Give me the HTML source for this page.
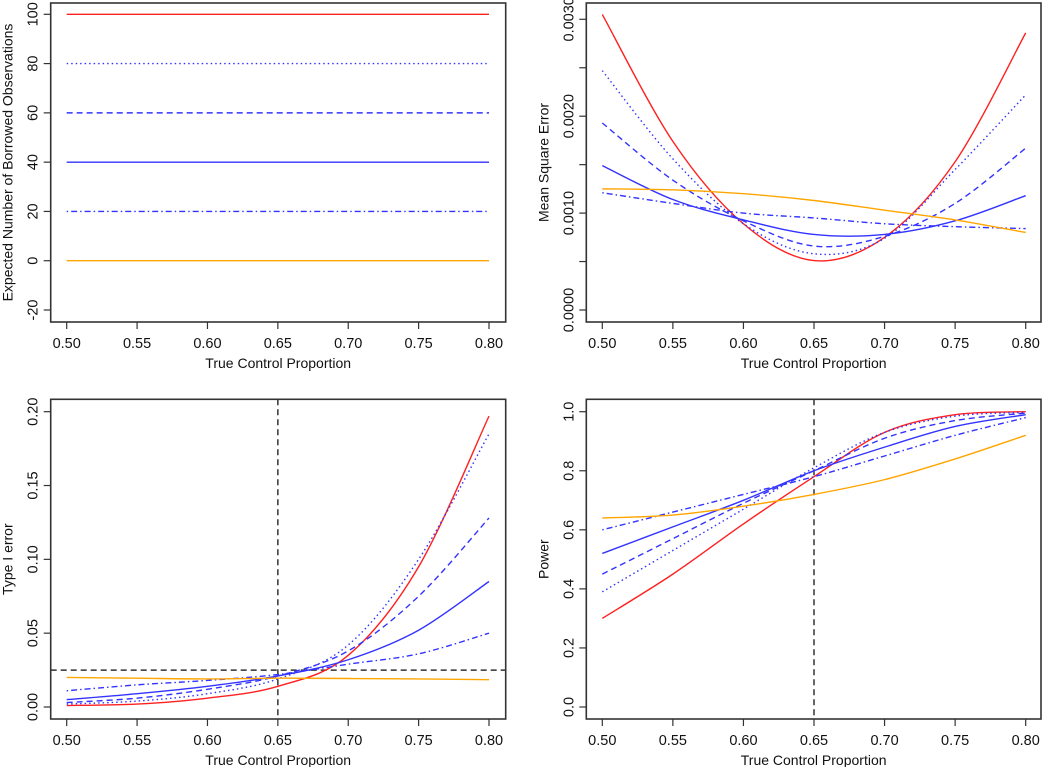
<!DOCTYPE html>
<html><head><meta charset="utf-8"><style>
html,body{margin:0;padding:0;background:#fff;}
svg{display:block;font-family:"Liberation Sans",Arial,sans-serif;}
</style></head><body>
<svg id="fig" width="1050" height="767" viewBox="0 0 1050 767"></svg>
<script>
const xVals = [0.50,0.55,0.60,0.65,0.70,0.75,0.80];
const xTicks = [0.50,0.55,0.60,0.65,0.70,0.75,0.80];
const xTickLabels = ["0.50","0.55","0.60","0.65","0.70","0.75","0.80"];
// Panel 1: expected borrowed
const p1Red = [100,100,100,100,100,100,100];
const p1Dot = [80,80,80,80,80,80,80];
const p1Dash = [60,60,60,60,60,60,60];
const p1Solid = [40,40,40,40,40,40,40];
const p1DotDash = [20,20,20,20,20,20,20];
const p1Orange = [0,0,0,0,0,0,0];
const p1Ticks = [-20,0,20,40,60,80,100];
const p1TickLabels = ["-20","0","20","40","60","80","100"];
// Panel 2: MSE (x 1e-3)
const p2Red = [3.05,1.74,0.89,0.51,0.75,1.53,2.86];
const p2Dot = [2.47,1.56,0.89,0.58,0.74,1.45,2.22];
const p2Dash = [1.93,1.34,0.92,0.66,0.76,1.10,1.67];
const p2Solid = [1.49,1.14,0.93,0.78,0.78,0.92,1.18];
const p2DotDash = [1.21,1.10,1.00,0.95,0.89,0.86,0.84];
const p2Orange = [1.25,1.24,1.20,1.13,1.03,0.93,0.80];
const p2Ticks = [0,0.5,1.0,1.5,2.0,2.5,3.0];
const p2TickLabels = ["0.0000","","0.0010","","0.0020","","0.0030"];
// Panel 3: type I error
const p3Red = [0.001,0.002,0.006,0.014,0.035,0.095,0.197];
const p3Dot = [0.002,0.004,0.009,0.019,0.042,0.100,0.185];
const p3Dash = [0.003,0.006,0.012,0.021,0.038,0.075,0.128];
const p3Solid = [0.005,0.009,0.014,0.021,0.032,0.052,0.085];
const p3DotDash = [0.011,0.015,0.018,0.022,0.029,0.036,0.050];
const p3Orange = [0.020,0.0195,0.019,0.0195,0.0193,0.019,0.0185];
const p3Ticks = [0,0.05,0.10,0.15,0.20];
const p3TickLabels = ["0.00","0.05","0.10","0.15","0.20"];
// Panel 4: power
const p4Red = [0.30,0.45,0.62,0.78,0.93,0.99,1.00];
const p4Dot = [0.39,0.53,0.67,0.81,0.93,0.985,0.998];
const p4Dash = [0.45,0.57,0.69,0.80,0.91,0.97,0.995];
const p4Solid = [0.52,0.61,0.70,0.80,0.88,0.95,0.99];
const p4DotDash = [0.60,0.66,0.72,0.78,0.85,0.92,0.98];
const p4Orange = [0.64,0.65,0.68,0.72,0.77,0.84,0.92];
const p4Ticks = [0,0.2,0.4,0.6,0.8,1.0];
const p4TickLabels = ["0.0","0.2","0.4","0.6","0.8","1.0"];

const NS="http://www.w3.org/2000/svg";
const svg=document.getElementById('fig');
function el(tag,attrs,parent){const e=document.createElementNS(NS,tag);for(const k in attrs)e.setAttribute(k,attrs[k]);(parent||svg).appendChild(e);return e;}

const styles=[
 {c:"#ff2020",d:null,n:"red-series"},
 {c:"#3333ff",d:"1.5 3",n:"dotted-series"},
 {c:"#3333ff",d:"6 4",n:"dashed-series"},
 {c:"#3333ff",d:null,n:"solid-blue-series"},
 {c:"#3333ff",d:"1.5 3 6 3",n:"dotdash-series"},
 {c:"#ffa500",d:null,n:"orange-series"}];

function panel(o){
 const g=el('g',{});
 
 
 const sx=v=>o.x0+(v-0.5)/(0.3)*(o.x1-o.x0);
 const sy=v=>o.yb+(v-o.vb)/(o.vt-o.vb)*(o.yt-o.yb);
 const box=el('rect',{x:o.L,y:o.T,width:o.R-o.L,height:o.B-o.T,fill:'none',stroke:'#333','stroke-width':1.6},g);
 
 
 xTicks.forEach((t,i)=>{
  const x=sx(t);
  el('line',{x1:x,x2:x,y1:o.B,y2:o.B+7,stroke:'#333','stroke-width':1.2},g);
  const tx=el('text',{x:x,y:o.B+26,'text-anchor':'middle','font-size':14.5,fill:'#111'},g);
  tx.textContent=xTickLabels[i];
  
  
 });
 const xl=el('text',{x:(o.L+o.R)/2,y:o.B+46,'text-anchor':'middle','font-size':14,fill:'#111'},g);
 xl.textContent='True Control Proportion';
 
 
 o.yTicks.forEach((t,i)=>{
  const y=sy(t);
  el('line',{x1:o.L,x2:o.L-7,y1:y,y2:y,stroke:'#333','stroke-width':1.2},g);
  if(o.yLabels[i]!==''){
   const tx=el('text',{x:o.L-13,y:y,'text-anchor':'middle','font-size':14.5,fill:'#111',transform:`rotate(-90 ${o.L-13} ${y})`},g);
   tx.textContent=o.yLabels[i];
   
   
  }
 });
 const yx=o.L-38, ym=(o.T+o.B)/2;
 const yl=el('text',{x:yx,y:ym,'text-anchor':'middle','font-size':14,fill:'#111',transform:`rotate(-90 ${yx} ${ym})`},g);
 yl.textContent=o.ytitle;
 
 
 if(o.ref){
  o.ref.forEach(r=>{
   let a;
   if(r.v!==undefined) a={x1:sx(r.v),x2:sx(r.v),y1:o.T,y2:o.B};
   else a={x1:o.L,x2:o.R,y1:sy(r.h),y2:sy(r.h)};
   const ln=el('line',Object.assign(a,{stroke:'#333','stroke-width':1.5,'stroke-dasharray':'6 4'}),g);
   
   
  });
 }
 o.series.forEach((s,k)=>{
  const st=styles[k];
  const pts=xVals.map((x,i)=>[sx(x),sy(s[i])]);
  let d=`M${pts[0][0]},${pts[0][1]}`;
  for(let i=0;i<pts.length-1;i++){
   const p0=pts[Math.max(0,i-1)],p1=pts[i],p2=pts[i+1],p3=pts[Math.min(pts.length-1,i+2)];
   const c1=[p1[0]+(p2[0]-p0[0])/6,p1[1]+(p2[1]-p0[1])/6];
   const c2=[p2[0]-(p3[0]-p1[0])/6,p2[1]-(p3[1]-p1[1])/6];
   d+=` C${c1[0]},${c1[1]} ${c2[0]},${c2[1]} ${p2[0]},${p2[1]}`;
  }
  const a={d:d,fill:'none',stroke:st.c,'stroke-width':1.4};
  if(st.d)a['stroke-dasharray']=st.d;
  const p=el('path',a,g);
  
  
 });
}
const xa={x0:66.7,x1:489};const xb={x0:602.3,x1:1025.7};
panel(Object.assign({name:'borrowed-observations-panel',L:50.7,R:505.7,T:3,B:322,yb:310,yt:14.3,vb:-20,vt:100,yTicks:p1Ticks,yLabels:p1TickLabels,ytitle:'Expected Number of Borrowed Observations',series:[p1Red,p1Dot,p1Dash,p1Solid,p1DotDash,p1Orange]},xa));
panel(Object.assign({name:'mse-panel',L:586.3,R:1041,T:3,B:322,yb:310,yt:19.3,vb:0,vt:3.0,yTicks:p2Ticks,yLabels:p2TickLabels,ytitle:'Mean Square Error',series:[p2Red,p2Dot,p2Dash,p2Solid,p2DotDash,p2Orange]},xb));
panel(Object.assign({name:'type-i-error-panel',L:50.7,R:505.7,T:399.3,B:719,yb:707,yt:411.7,vb:0,vt:0.2,yTicks:p3Ticks,yLabels:p3TickLabels,ytitle:'Type I error',ref:[{v:0.65},{h:0.025}],series:[p3Red,p3Dot,p3Dash,p3Solid,p3DotDash,p3Orange]},xa));
panel(Object.assign({name:'power-panel',L:586.3,R:1041,T:399.3,B:719,yb:707,yt:411.7,vb:0,vt:1.0,yTicks:p4Ticks,yLabels:p4TickLabels,ytitle:'Power',ref:[{v:0.65}],series:[p4Red,p4Dot,p4Dash,p4Solid,p4DotDash,p4Orange]},xb));
</script>
</body></html>
